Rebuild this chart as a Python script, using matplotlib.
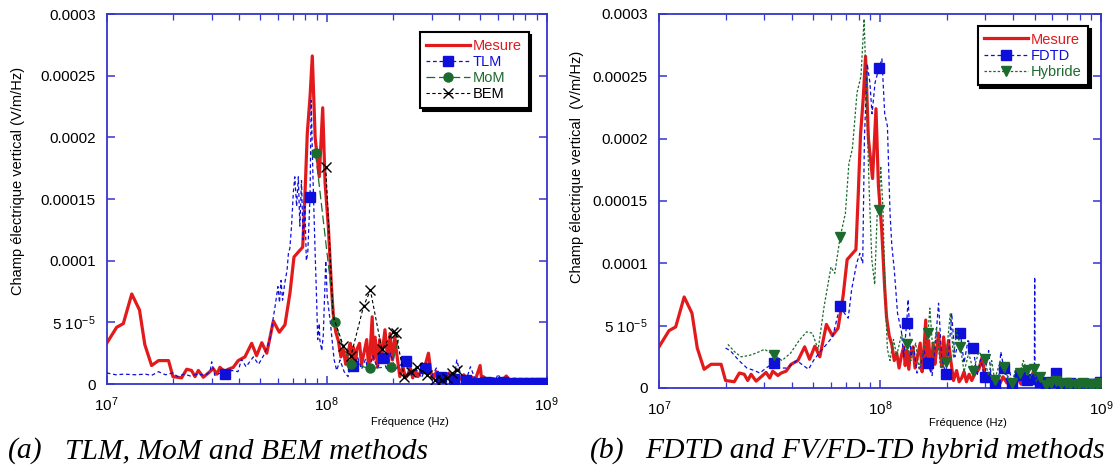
import numpy as np
import matplotlib
matplotlib.use("Agg")
import matplotlib.pyplot as plt
from matplotlib.ticker import LogLocator, NullFormatter

plt.rcParams['font.family'] = ['Liberation Sans', 'DejaVu Sans']
plt.rcParams['mathtext.fontset'] = 'custom'
plt.rcParams['mathtext.rm'] = 'Liberation Sans'
plt.rcParams['mathtext.it'] = 'Liberation Sans:italic'
plt.rcParams['mathtext.default'] = 'regular'

# frequency in MHz, field in 1e-5 V/m/Hz
mesure = [(10, 3.3), (11.1, 4.6), (11.9, 4.9), (13.0, 7.3), (14.1, 6.0), (14.9, 3.2), (16.0, 1.5),
          (17.2, 1.9), (19.1, 1.9), (20.0, 0.6), (21.9, 0.5), (23.1, 1.2), (24.3, 1.1), (25.2, 0.6),
          (26.1, 1.1), (27.5, 0.55), (29.0, 0.9), (30.5, 1.25), (31.7, 0.8), (32.7, 1.35), (34.5, 1.0),
          (35.7, 1.2), (37.6, 1.35), (39.6, 1.9), (42.5, 2.2), (45.6, 3.3), (48.0, 2.3), (50.7, 3.35),
          (53.4, 2.5), (57.2, 5.1), (60.9, 4.2), (64.6, 4.8), (68.1, 7.4), (71.0, 10.3), (74.3, 10.7),
          (77.8, 11.1), (79.7, 15.5), (81.6, 20.3), (84.0, 23.3), (86.0, 26.6), (88.6, 20.0), (92.5, 16.8),
          (95.9, 22.4), (98.3, 16.3), (101.7, 12.8), (105, 8.0), (107, 5.7), (110, 4.2), (113, 3.5),
          (116, 2.2), (119, 2.8), (122, 1.6), (125, 2.6), (128, 3.3), (130, 1.8), (132, 3.0), (135, 1.5),
          (137, 2.8), (141, 3.3), (144, 1.6), (148, 2.6), (152, 3.6), (155, 1.3), (157, 2.2), (161, 5.45),
          (163, 2.0), (166, 3.8), (170, 1.4), (174, 3.6), (177, 1.9), (179, 2.6), (184, 4.4), (188, 2.6),
          (191, 1.7), (194, 4.1), (199, 1.95), (204, 3.8), (209, 2.2), (215, 0.6), (222, 1.4), (228, 0.5),
          (234, 0.8), (240, 1.3), (246, 0.5), (253, 1.1), (260, 0.6), (270, 1.2), (280, 1.5), (290, 2.5),
          (298, 0.9), (307, 0.5), (315, 1.0), (328, 0.5), (340, 0.8), (350, 0.4), (360, 0.9), (375, 0.4),
          (390, 0.7), (405, 0.4), (420, 0.75), (435, 0.3), (450, 0.6), (475, 0.4), (498, 1.5), (505, 0.5),
          (515, 0.6), (540, 0.3), (570, 0.45), (600, 0.3), (630, 0.35), (655, 0.65), (680, 0.3),
          (720, 0.4), (750, 0.25), (800, 0.35), (850, 0.2), (900, 0.3), (950, 0.2), (1000, 0.3)]

tlm_line = [(10, 0.9), (11, 0.75), (12, 0.8), (13.5, 0.75), (15, 0.8), (16, 0.7), (17.2, 1.0), (18.5, 0.75),
            (20, 0.9), (21, 0.6), (22.5, 0.8), (24, 0.65), (26, 0.8), (28, 0.7), (29.5, 1.0), (30, 1.8),
            (31, 0.7), (33, 0.9), (37, 1.1), (39.5, 1.0), (41, 2.0), (43, 1.4), (46.4, 2.2), (49, 1.6),
            (52, 2.4), (55.2, 3.6), (57.2, 5.4), (58.5, 6.5), (60, 7.9), (61, 6.6), (62, 8.4), (63, 6.8),
            (64.5, 8.2), (66, 9.2), (67, 10.6), (68, 11.0), (69.2, 12.8), (70.5, 15.5), (71.6, 16.8),
            (73, 14.4), (74.3, 16.8), (75.5, 12.8), (76.8, 16.5), (78.1, 11.7), (79.6, 14.4), (80.8, 10.0),
            (82, 10.6), (85, 23.0), (86.5, 17.1), (88.6, 10.6), (90, 6.8), (91, 3.6), (92.5, 4.9), (93, 3.6),
            (95, 2.7), (96.5, 4.0), (99, 10.0), (100.5, 7.1), (104, 4.9), (108, 2.0), (111, 1.1), (115, 1.95),
            (120, 1.0), (125, 0.6), (128, 1.4), (138, 2.2), (144, 1.2), (150, 2.0), (155, 1.0), (162, 2.3),
            (170, 1.3), (188, 1.1), (195, 2.5), (205, 1.2), (215, 1.5), (240, 0.6), (255, 1.2), (270, 0.5),
            (300, 0.6), (315, 1.3), (355, 0.9), (390, 1.95), (410, 0.5), (450, 1.4), (500, 0.5), (600, 0.8),
            (700, 0.3), (900, 0.3)]
tlm_marks = [(34.5, 0.8), (84, 15.2), (132, 1.45), (180, 2.1), (230, 1.9), (280, 1.27), (330, 0.6),
             (380, 0.4), (430, 0.3), (480, 0.1), (530, 0.2), (580, 0.1), (630, 0.15), (680, 0.05),
             (730, 0.1), (780, 0.05), (830, 0.1), (880, 0.05), (930, 0.1), (980, 0.1)]

mom_line = [(117, 3.3), (212, 3.6)]
mom_marks = [(89, 18.7), (109, 5.05), (129, 1.62), (157, 1.27), (197, 1.4)]

bem_line = [(107, 5.5), (405, 1.4)]
bem_marks = [(99, 17.6), (119, 3.1), (129, 2.3), (147, 6.3), (158, 7.6), (178, 2.8), (201, 4.2),
             (206, 4.15), (225, 0.6), (242, 1.0), (256, 1.4), (287, 0.73), (309, 0.32), (333, 0.32),
             (353, 0.46), (373, 0.86), (392, 1.13)]

fdtd_line = [(20, 3.2), (21, 3.0), (23, 2.2), (25, 1.6), (27, 1.4), (28.6, 1.2), (30.5, 1.6), (35, 1.6),
             (38, 1.6), (42, 2.2), (45, 1.8), (47.5, 1.5), (50, 2.2), (53, 2.8), (56, 3.3), (61, 4.1),
             (69, 6.0), (71.8, 5.6), (74.4, 7.9), (78.4, 10.0), (81, 10.8), (83.5, 10.0), (85, 20.0),
             (87.5, 26.0), (90, 24.5), (92, 22.0), (95, 24.5), (102, 26.4), (105, 22.0), (108, 21.0),
             (111, 14.0), (113, 11.5), (116, 9.5), (120, 6.0), (125, 4.5), (128, 2.5), (134, 7.1), (138, 2.5),
             (142, 3.3), (147, 1.2), (152, 1.7), (158, 3.0), (172, 1.0), (178, 3.5), (184, 6.8), (190, 2.5),
             (205, 3.0), (211, 6.0), (218, 2.5), (240, 2.0), (250, 3.8), (275, 1.0), (285, 2.3), (310, 3.0),
             (320, 0.6), (345, 1.0), (352, 2.9), (375, 0.5), (385, 1.5), (410, 1.2), (445, 0.3), (480, 1.1),
             (499, 0.4), (501, 8.9), (503, 0.3), (545, 0.8), (610, 0.4), (700, 0.6), (840, 0.4), (970, 0.3)]
fdtd_marks = [(33, 2.0), (66, 6.6), (99, 25.7), (132, 5.2), (165, 2.0), (198, 1.12), (231, 4.4),
              (264, 3.2), (297, 0.9), (330, 0.25), (363, 1.6), (396, 0.3), (429, 1.07), (462, 0.67),
              (495, 0.7), (528, 0.5), (561, 0.3), (594, 0.5), (627, 1.2), (660, 0.3), (693, 0.2),
              (726, 0.4), (759, 0.3), (792, 0.2), (825, 0.3), (858, 0.2), (891, 0.3), (924, 0.2),
              (957, 0.3), (990, 0.5)]

hyb_line = [(20.5, 3.5), (22, 2.9), (23.5, 2.5), (25.5, 2.6), (27.5, 2.8), (30, 3.1), (36, 2.2), (39.4, 2.8),
            (43, 3.8), (46.5, 4.5), (49.4, 4.4), (52.5, 3.1), (55.8, 6.5), (60, 9.7), (62.4, 9.2), (69.7, 14.0),
            (72.3, 18.0), (75, 19.2), (78.7, 23.7), (82, 25.0), (84.7, 29.6), (87, 23.0), (89.2, 16.2),
            (91.8, 10.3), (94.6, 8.3), (97, 13.8), (100.7, 17.8), (103, 14.5), (105.7, 7.1), (108, 3.1),
            (111, 2.2), (115, 3.9), (119, 2.6), (125, 4.3), (138, 2.2), (145, 3.6), (150, 1.6), (157, 3.0),
            (168, 6.4), (174, 2.6), (180, 4.8), (188, 1.6), (208, 6.0), (215, 2.4), (222, 4.6), (240, 1.3),
            (252, 2.8), (280, 2.9), (310, 1.0), (320, 2.2), (345, 1.8), (380, 0.8), (410, 1.5), (445, 2.2),
            (480, 0.8), (510, 0.5), (645, 0.2), (760, 0.5), (900, 0.2)]
hyb_marks = [(33.1, 2.67), (66, 12.1), (99, 14.3), (132, 3.55), (165, 4.4), (198, 2.1), (231, 3.3),
             (264, 1.4), (297, 2.3), (330, 0.64), (363, 1.66), (396, 0.37), (429, 1.18), (462, 1.44),
             (495, 1.5), (528, 0.9), (561, 0.2), (594, 0.4), (627, 0.6), (660, 0.3), (693, 0.4),
             (726, 0.2), (759, 0.3), (792, 0.2), (825, 0.4), (858, 0.3), (891, 0.2), (924, 0.3),
             (957, 0.2), (990, 0.4)]

RED = '#e31a1c'
BLUE = '#0f0fdc'
GREEN = '#1c6b2e'
AXIS = '#3636cc'


def to_si(points):
    a = np.array(points, dtype=float)
    return a[:, 0] * 1e6, a[:, 1] * 1e-5


def draw(ax, line_pts, mark_pts, **kw):
    lf, lv = to_si(line_pts)
    f, v = lf, lv
    marked = np.zeros(len(lf), dtype=bool)
    if mark_pts:
        mf, mv = to_si(mark_pts)
        f = np.concatenate([lf, mf])
        v = np.concatenate([lv, mv])
        marked = np.concatenate([marked, np.ones(len(mf), dtype=bool)])
    order = np.argsort(f)
    if mark_pts:
        kw['markevery'] = list(marked[order])
    ax.plot(f[order], v[order], **kw)


def setup(ax, ylabel):
    ax.set_xscale('log')
    ax.set_xlim(1e7, 1e9)
    ax.set_ylim(0, 3e-4)
    ax.set_yticks([0, 5e-5, 1e-4, 1.5e-4, 2e-4, 2.5e-4, 3e-4])
    ax.set_yticklabels(['0', r'5 10$^{-5}$', '0.0001', '0.00015', '0.0002', '0.00025', '0.0003'])
    ax.xaxis.set_minor_locator(LogLocator(base=10, subs=np.arange(2, 10)))
    ax.xaxis.set_minor_formatter(NullFormatter())
    ax.tick_params(which='both', direction='in', top=True, right=True, color=AXIS)
    ax.tick_params(which='major', length=6, width=1.1, labelsize=11, pad=8)
    ax.tick_params(which='minor', length=4, width=0.9)
    ax.tick_params(axis='x', which='major', pad=8)
    for s in ax.spines.values():
        s.set_color(AXIS)
        s.set_linewidth(1.3)
    ax.set_ylabel(ylabel, fontsize=10.5)
    ax.set_xlabel('Fréquence (Hz)', fontsize=8)


def legend(ax, anchor):
    leg = ax.legend(loc='upper right', bbox_to_anchor=anchor, borderaxespad=0, fontsize=10.5,
                    labelcolor='linecolor', fancybox=False, framealpha=1, edgecolor='black',
                    shadow={'color': 'black', 'alpha': 1}, handlelength=3.0, handletextpad=0.2,
                    labelspacing=0.15, borderpad=0.45, numpoints=1)
    leg.get_frame().set_linewidth(1.5)


fig = plt.figure(figsize=(11.16, 4.72), dpi=100)
ax1 = fig.add_axes([0.0956, 0.1864, 0.3943, 0.7839])
ax2 = fig.add_axes([0.5905, 0.178, 0.3961, 0.7924])

# (a) TLM, MoM, BEM
draw(ax1, mesure, [], color=RED, lw=2.3, label='Mesure', zorder=2)
draw(ax1, tlm_line, tlm_marks, color=BLUE, lw=0.9, dashes=(3, 2.2), marker='s', ms=6.5,
     label='TLM', zorder=3)
draw(ax1, mom_line, mom_marks, color=GREEN, lw=0.9, dashes=(7, 3), marker='o', ms=6.5,
     label='MoM', zorder=3)
draw(ax1, bem_line, bem_marks, color='black', lw=0.8, dashes=(3, 2.2), marker='x', ms=6.5,
     mew=1.0, label='BEM', zorder=3)
setup(ax1, 'Champ électrique vertical (V/m/Hz)')
ax1.yaxis.set_label_coords(-0.185, 0.55)
ax1.xaxis.set_label_coords(0.69, -0.09)
legend(ax1, (0.959, 0.951))

# (b) FDTD and hybrid
draw(ax2, mesure, [], color=RED, lw=2.3, label='Mesure', zorder=2)
draw(ax2, fdtd_line, fdtd_marks, color=BLUE, lw=0.9, dashes=(3, 2.2), marker='s', ms=7,
     label='FDTD', zorder=3)
draw(ax2, hyb_line, hyb_marks, color=GREEN, lw=0.9, dashes=(2, 1.5), marker='v', ms=7,
     label='Hybride', zorder=3)
setup(ax2, 'Champ électrique vertical  (V/m/Hz)')
ax2.yaxis.set_label_coords(-0.17, 0.59)
ax2.xaxis.set_label_coords(0.70, -0.08)
legend(ax2, (0.971, 0.968))

cap = dict(fontsize=21.3, style='italic', family='Liberation Serif', va='center')
fig.text(8 / 1116, 1 - 451 / 472, '(a)', **cap)
fig.text(65 / 1116, 1 - 451 / 472, 'TLM, MoM and BEM methods', **cap)
fig.text(590 / 1116, 1 - 451 / 472, '(b)', **cap)
fig.text(645 / 1116, 1 - 451 / 472, 'FDTD and FV/FD-TD hybrid methods', **cap)

fig.savefig('out.png', dpi=100)
